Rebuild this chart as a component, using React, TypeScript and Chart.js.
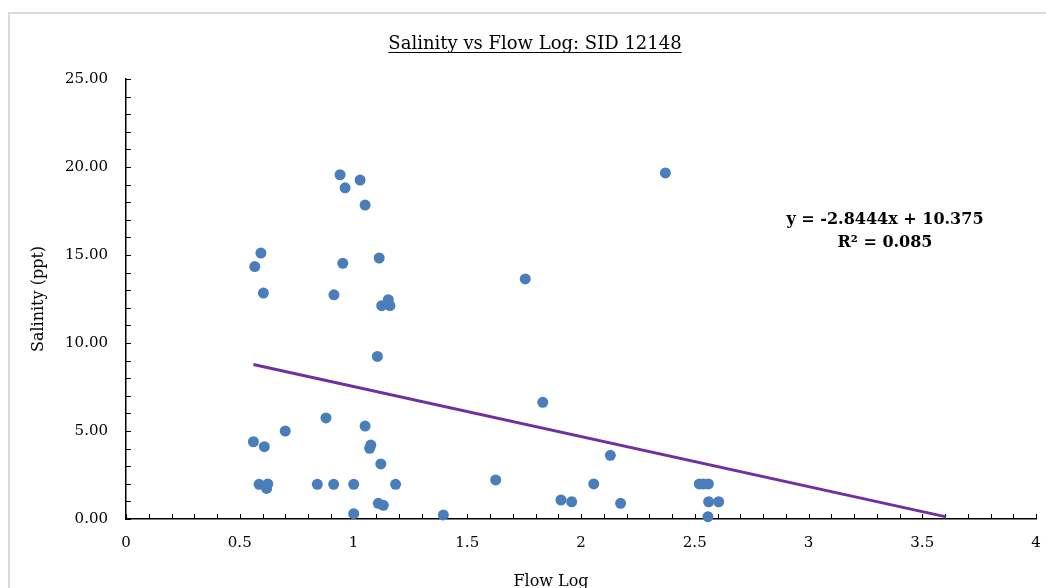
import React, { useEffect, useRef } from "react";
import { Chart, registerables } from "chart.js";

Chart.register(...registerables);

const chartTitle = "Salinity vs Flow Log: SID 12148";
const xAxisTitle = "Flow Log";
const yAxisTitle = "Salinity (ppt)";
const equationLine = "y = -2.8444x + 10.375";
const rSquaredLine = "R\u00B2 = 0.085";

const flowLog = [
  0.941, 1.029, 0.963, 1.051, 0.593, 0.566, 0.953, 1.113, 0.604, 0.914, 1.153, 1.124, 1.16, 1.105,
  0.56, 0.608, 0.7, 0.879, 1.051, 1.076, 1.071, 1.12, 0.585, 0.623, 0.618, 0.841, 0.913, 1.001,
  1.185, 1.109, 1.131, 1.001, 1.395, 2.371, 1.755, 1.832, 2.129, 1.625, 1.912, 1.959, 2.056,
  2.174, 2.52, 2.538, 2.56, 2.561, 2.605, 2.558,
];
const salinity = [
  19.56, 19.26, 18.82, 17.84, 15.11, 14.34, 14.53, 14.83, 12.84, 12.74, 12.46, 12.12, 12.12, 9.24,
  4.39, 4.11, 5.0, 5.74, 5.28, 4.2, 4.02, 3.13, 1.97, 1.99, 1.74, 1.97, 1.97, 1.97, 1.97, 0.89,
  0.78, 0.3, 0.23, 19.66, 13.64, 6.63, 3.62, 2.22, 1.08, 0.98, 1.99, 0.89, 1.99, 1.99, 1.99, 0.98,
  0.98, 0.13,
];

const trendSlope = -2.8444;
const trendIntercept = 10.375;
const trendForwardForecast = 1;

const xMin = 0;
const xMax = 4;
const xStep = 0.5;
const xMinorStep = 0.1;
const yMin = 0;
const yMax = 25;
const yStep = 5;
const yMinorStep = 1;

const FONT = '"DejaVu Serif", "Liberation Serif", serif';

export default function App() {
  const canvasRef = useRef<HTMLCanvasElement | null>(null);

  useEffect(() => {
    const canvas = canvasRef.current;
    if (!canvas) return;

    const points = flowLog.map((x, i) => ({ x, y: salinity[i] }));
    const tStart = Math.min(...flowLog);
    const tEnd = Math.max(...flowLog) + trendForwardForecast;
    const trend = [
      { x: tStart, y: trendSlope * tStart + trendIntercept },
      { x: tEnd, y: trendSlope * tEnd + trendIntercept },
    ];

    const decorPlugin = {
      id: "decor",
      beforeDatasetsDraw(chart: any) {
        const ctx = chart.ctx;
        const xs = chart.scales.x;
        const ys = chart.scales.y;
        const area = chart.chartArea;
        ctx.save();
        ctx.strokeStyle = "#000";
        ctx.lineWidth = 1;
        const nx = Math.round((xMax - xMin) / xMinorStep);
        for (let i = 0; i <= nx; i++) {
          const px = Math.round(xs.getPixelForValue(xMin + i * xMinorStep)) + 0.5;
          ctx.beginPath();
          ctx.moveTo(px, area.bottom);
          ctx.lineTo(px, area.bottom - 5);
          ctx.stroke();
        }
        const ny = Math.round((yMax - yMin) / yMinorStep);
        for (let i = 0; i <= ny; i++) {
          const py = Math.round(ys.getPixelForValue(yMin + i * yMinorStep)) + 0.5;
          ctx.beginPath();
          ctx.moveTo(area.left, py);
          ctx.lineTo(area.left + 5, py);
          ctx.stroke();
        }
        ctx.restore();
      },
      afterDraw(chart: any) {
        const ctx = chart.ctx;
        ctx.save();
        ctx.fillStyle = "#000";
        ctx.strokeStyle = "#000";
        ctx.font = `18px ${FONT}`;
        ctx.textAlign = "center";
        ctx.textBaseline = "alphabetic";
        const tx = 535;
        const ty = 49;
        ctx.fillText(chartTitle, tx, ty);
        const w = ctx.measureText(chartTitle).width;
        ctx.lineWidth = 1;
        ctx.beginPath();
        ctx.moveTo(tx - w / 2, ty + 3.5);
        ctx.lineTo(tx + w / 2, ty + 3.5);
        ctx.stroke();
        ctx.font = `16px ${FONT}`;
        ctx.fillText(xAxisTitle, 551, 586);
        ctx.font = `bold 16px ${FONT}`;
        ctx.fillText(equationLine, 885, 224);
        ctx.fillText(rSquaredLine, 885, 247);
        ctx.restore();
      },
    };

    const chart = new Chart(canvas, {
      type: "scatter",
      data: {
        datasets: [
          {
            type: "line",
            label: "Linear (Salinity)",
            data: trend,
            borderColor: "#7030a0",
            borderWidth: 3,
            pointRadius: 0,
            fill: false,
            showLine: true,
            tension: 0,
          } as any,
          {
            label: "Salinity",
            data: points,
            backgroundColor: "#4a7ebb",
            borderColor: "#4a7ebb",
            borderWidth: 0,
            pointRadius: 5.5,
            pointHoverRadius: 5.5,
            clip: false,
          } as any,
        ],
      },
      options: {
        animation: false,
        responsive: false,
        maintainAspectRatio: false,
        events: [],
        layout: { padding: { top: 79, left: 0, right: 10, bottom: 0 } },
        plugins: {
          legend: { display: false },
          tooltip: { enabled: false },
          title: { display: false },
        },
        scales: {
          x: {
            type: "linear",
            min: xMin,
            max: xMax,
            afterFit: (s: any) => {
              s.height = 81;
              s.paddingLeft = 0;
              s.paddingRight = 0;
            },
            ticks: {
              stepSize: xStep,
              padding: 15,
              color: "#000",
              font: { family: FONT, size: 15 },
              maxRotation: 0,
              callback: (v: any) => String(Math.round(Number(v) * 10) / 10),
            },
            grid: { display: false, drawTicks: false },
            border: { display: true, color: "#000", width: 1.5 },
          },
          y: {
            type: "linear",
            min: yMin,
            max: yMax,
            afterFit: (s: any) => {
              s.width = 126;
              s.paddingTop = 0;
              s.paddingBottom = 0;
            },
            ticks: {
              stepSize: yStep,
              padding: 18,
              color: "#000",
              font: { family: FONT, size: 15 },
              callback: (v: any) => Number(v).toFixed(2),
            },
            grid: { display: false, drawTicks: false },
            border: { display: true, color: "#000", width: 1.5 },
            title: {
              display: true,
              text: yAxisTitle,
              color: "#000",
              font: { family: FONT, size: 16 },
              padding: { top: 29, bottom: 0 },
            },
          },
        },
      },
      plugins: [decorPlugin],
    });

    return () => {
      chart.destroy();
    };
  }, []);

  return (
    <div
      style={{
        position: "fixed",
        left: 0,
        top: 0,
        width: 1046,
        height: 588,
        overflow: "hidden",
        background: "#fff",
      }}
    >
      <div
        style={{
          position: "absolute",
          left: 8,
          top: 12,
          width: 1200,
          height: 800,
          border: "2px solid #d9d9d9",
          boxSizing: "border-box",
        }}
      />
      <canvas
        ref={canvasRef}
        width={1046}
        height={600}
        style={{ position: "absolute", left: 0, top: 0, width: 1046, height: 600 }}
      />
    </div>
  );
}
